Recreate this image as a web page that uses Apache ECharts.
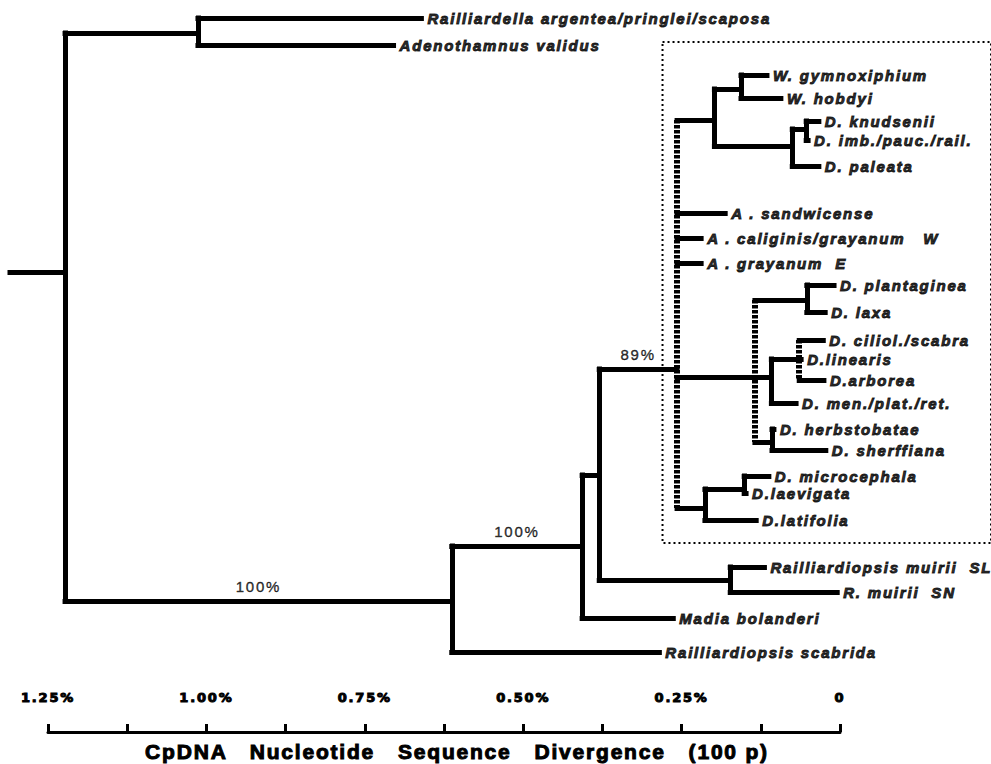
<!DOCTYPE html>
<html>
<head>
<meta charset="utf-8">
<script src="https://cdn.jsdelivr.net/npm/echarts@6/dist/echarts.min.js"></script>
<style>
html,body{margin:0;padding:0;background:#fff;}
#tree{width:991px;height:764px;letter-spacing:1.8px;}
#tree text{white-space:pre;}
</style>
</head>
<body>
<div id="tree"></div>
<script>
// internal nodes: divergence (%) where the node sits, and its row (vertical layout slot)
const nodeIds    = ['root','n1','n2','n3','n4','n5','n6','n7','n8','n9','n10','n11','n12','n13','n14','n15','n16','n17'];
const nodeParent = [null,'root','root','n2','n3','n4','n4','n6','n7','n7','n9','n6','n11','n11','n13','n11','n6','n16'];
const nodeDiv    = [1.223,1.013,0.612,0.406,0.379,0.172,0.256,0.197,0.155,0.074,0.052,0.133,0.051,0.107,0.063,0.106,0.212,0.150];
const nodeRow    = [10.88,1.32,24.04,21.84,19.0,23.2,14.76,4.8,3.56,5.84,5.16,15.08,12.0,15.08,14.36,17.68,20.32,19.56];
const dashedNodes = ['n6','n11','n14'];   // weakly supported / unresolved
const rootStub = 1.31;

// terminal taxa
const leafNames = [
  'Railliardella argentea/pringlei/scaposa','Adenothamnus validus',
  'W. gymnoxiphium','W. hobdyi','D. knudsenii','D. imb./pauc./rail.','D. paleata',
  'A . sandwicense','A . caliginis/grayanum   W','A . grayanum  E',
  'D. plantaginea','D. laxa','D. ciliol./scabra','D.linearis','D.arborea','D. men./plat./ret.',
  'D. herbstobatae','D. sherffiana','D. microcephala','D.laevigata','D.latifolia',
  'Railliardiopsis muirii  SL','R. muirii  SN','Madia bolanderi','Railliardiopsis scabrida'
];
const leafParent = ['n1','n1','n8','n8','n10','n10','n9','n6','n6','n6','n12','n12','n14','n14','n14','n13','n15','n15','n17','n17','n16','n5','n5','n3','n2'];
const leafDiv    = [0.660,0.704,0.114,0.092,0.032,0.049,0.032,0.180,0.218,0.218,0.008,0.022,0.025,0.060,0.024,0.068,0.103,0.021,0.111,0.147,0.131,0.118,0.003,0.262,0.284];
const leafRow    = [0.72,1.8,3.0,3.92,4.84,5.6,6.64,8.52,9.52,10.52,11.4,12.48,13.6,14.36,15.2,16.12,17.16,18.0,19.04,19.72,20.8,22.68,23.68,24.72,26.08];

// bootstrap support on branches
const supportNode = ['n2','n3','n6'];
const supportText = ['100%','100%','89%'];

// dotted box round the Hawaiian group
const boxDiv = [0.279,-0.24];
const boxRow = [1.68,21.72];

// scale bar
const tickLabels = ['0','0.25%','0.50%','0.75%','1.00%','1.25%'];

const pos = {};
nodeIds.forEach((id,i)=>{ pos[id] = [nodeDiv[i], nodeRow[i]]; });
const solid = [], dashed = [], kids = {};
solid.push({coords:[[rootStub,nodeRow[0]],[nodeDiv[0],nodeRow[0]]]});
function addBranch(p, div, row){
  (kids[p] = kids[p] || []).push(row);
  solid.push({coords:[[pos[p][0],row],[div,row]]});
}
nodeIds.forEach((id,i)=>{ if(nodeParent[i]) addBranch(nodeParent[i], nodeDiv[i], nodeRow[i]); });
leafNames.forEach((n,i)=>addBranch(leafParent[i], leafDiv[i], leafRow[i]));
nodeIds.forEach((id,i)=>{
  const rows = kids[id].concat(nodeRow[i]);
  const seg = {coords:[[nodeDiv[i],Math.min(...rows)],[nodeDiv[i],Math.max(...rows)]]};
  (dashedNodes.indexOf(id) >= 0 ? dashed : solid).push(seg);
});

const supportData = supportNode.map((id,i)=>{
  const k = nodeIds.indexOf(id);
  const p = pos[nodeParent[k]];
  return [(p[0]+nodeDiv[k])/2, nodeRow[k], supportText[i]];
});

let myChart = echarts.init(document.getElementById('tree'), null, {renderer:'svg'});
myChart.setOption({
  backgroundColor:'#fff',
  animation:false,
  title:{
    text:'CpDNA   Nucleotide   Sequence   Divergence   (100 p)',
    left:452, top:736, textAlign:'center',
    textStyle:{fontSize:21, fontWeight:'bold', fontFamily:'Liberation Sans', color:'#000',
      textBorderColor:'#000', textBorderWidth:1}
  },
  grid:[
    {left:10, right:-1, top:0, height:750},
    {left:48, right:151, top:722, height:10}
  ],
  xAxis:[
    {gridIndex:0, type:'value', min:-0.24, max:rootStub, inverse:true, show:false},
    {gridIndex:1, type:'value', position:'top', min:0, max:1.25, interval:0.125, inverse:true,
      axisLine:{show:true, lineStyle:{color:'#000', width:3}},
      axisTick:{show:true, length:8, lineStyle:{color:'#000', width:3}},
      splitLine:{show:false},
      axisLabel:{
        margin:18, color:'#000', fontSize:13, fontWeight:'bold', fontFamily:'DejaVu Sans',
        textBorderColor:'#000', textBorderWidth:1,
        formatter:function(v){
          const q = v/0.25;
          return Math.abs(q-Math.round(q)) < 1e-6 ? tickLabels[Math.round(q)] : '';
        }
      }
    }
  ],
  yAxis:[
    {gridIndex:0, type:'value', min:0, max:30, inverse:true, show:false},
    {gridIndex:1, type:'value', show:false}
  ],
  series:[
    {
      type:'lines', coordinateSystem:'cartesian2d', xAxisIndex:0, yAxisIndex:0,
      silent:true, z:2,
      lineStyle:{color:'#000', width:5, cap:'square', opacity:1},
      data:solid
    },
    {
      type:'lines', coordinateSystem:'cartesian2d', xAxisIndex:0, yAxisIndex:0,
      silent:true, z:3,
      lineStyle:{color:'#000', width:6, type:[3.5,1.5], cap:'butt', opacity:1},
      data:dashed
    },
    {
      type:'scatter', xAxisIndex:0, yAxisIndex:0, symbolSize:0, silent:true,
      data:leafNames.map((n,i)=>[leafDiv[i], leafRow[i], n]),
      label:{
        show:true, position:'right', distance:6,
        formatter:p=>p.data[2],
        color:'#000', fontSize:15, fontWeight:'bold', fontStyle:'italic', fontFamily:'Liberation Sans',
        textBorderColor:'#000', textBorderWidth:1
      },
      markArea:{
        silent:true,
        itemStyle:{color:'rgba(0,0,0,0)', borderColor:'#000', borderWidth:2, borderType:[2,3]},
        data:[[{coord:[boxDiv[0],boxRow[0]]},{coord:[boxDiv[1],boxRow[1]]}]]
      }
    },
    {
      type:'scatter', xAxisIndex:0, yAxisIndex:0, symbolSize:0, silent:true,
      data:supportData,
      label:{
        show:true, position:'top', distance:7,
        formatter:p=>p.data[2],
        color:'#000', fontSize:15, fontFamily:'Liberation Sans',
        textBorderColor:'#000', textBorderWidth:0.4
      }
    }
  ]
});
</script>
</body>
</html>
